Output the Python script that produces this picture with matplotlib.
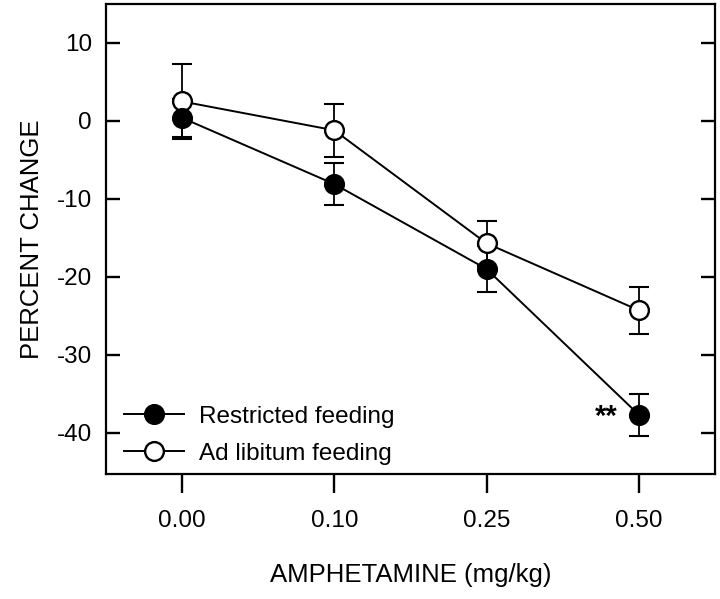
import matplotlib
matplotlib.use("Agg")
import matplotlib.pyplot as plt

# dose groups (x categories)
doses = ["0.00", "0.10", "0.25", "0.50"]

# percent change, mean and SEM
restricted = [0.4, -8.1, -19.0, -37.7]
restricted_sem = [2.4, 2.7, 3.0, 2.7]
ad_lib = [2.5, -1.2, -15.7, -24.3]
ad_lib_sem = [4.8, 3.4, 2.9, 3.0]

plt.rcParams["font.family"] = ["Liberation Sans", "DejaVu Sans"]
plt.rcParams["axes.unicode_minus"] = False

fig = plt.figure(figsize=(7.2, 5.99), dpi=100)
ax = fig.add_axes([0.147, 0.2087, 0.846, 0.7846])

x = list(range(len(doses)))

# error bars behind the markers
eb = dict(fmt="none", ecolor="black", capsize=7, capthick=1.5, elinewidth=1.3)
ax.errorbar(x, ad_lib, yerr=ad_lib_sem, zorder=1, **eb)
ax.errorbar(x, restricted, yerr=restricted_sem, zorder=1, **eb)

mk = dict(color="black", lw=1.4, marker="o", ms=13.5, mew=1.7, mec="black")
ax.plot(x, ad_lib, mfc="white", label="Ad libitum feeding", zorder=3, **mk)
ax.plot(x, restricted, mfc="black", label="Restricted feeding", zorder=4, **mk)

ax.text(x[3] - 0.14, restricted[3] - 0.3, "**", ha="right", va="center",
        fontsize=21, fontweight="bold")

ax.set_xlim(-0.5, 3.5)
ax.set_ylim(-45.3, 15)
ax.set_xticks(x)
ax.set_xticklabels(doses)
ax.set_yticks([10, 0, -10, -20, -30, -40])

for s in ax.spines.values():
    s.set_linewidth(1.6)

ax.tick_params(axis="y", direction="in", length=10, width=1.7,
               labelsize=17.5, right=True, pad=10)
ax.tick_params(axis="x", direction="out", length=14, width=1.7,
               labelsize=17.5, pad=12)

ax.set_ylabel("PERCENT CHANGE", fontsize=18.5, labelpad=9)
ax.set_xlabel("AMPHETAMINE (mg/kg)", fontsize=18.5, labelpad=22)

h, l = ax.get_legend_handles_labels()
ax.legend(h[::-1], l[::-1], loc="lower left", frameon=False, fontsize=17.5,
          handlelength=2.45, handletextpad=0.65, labelspacing=0.6,
          borderaxespad=0.0, borderpad=0.0, bbox_to_anchor=(0.03, 0.02))

fig.savefig("out.png", dpi=100)
